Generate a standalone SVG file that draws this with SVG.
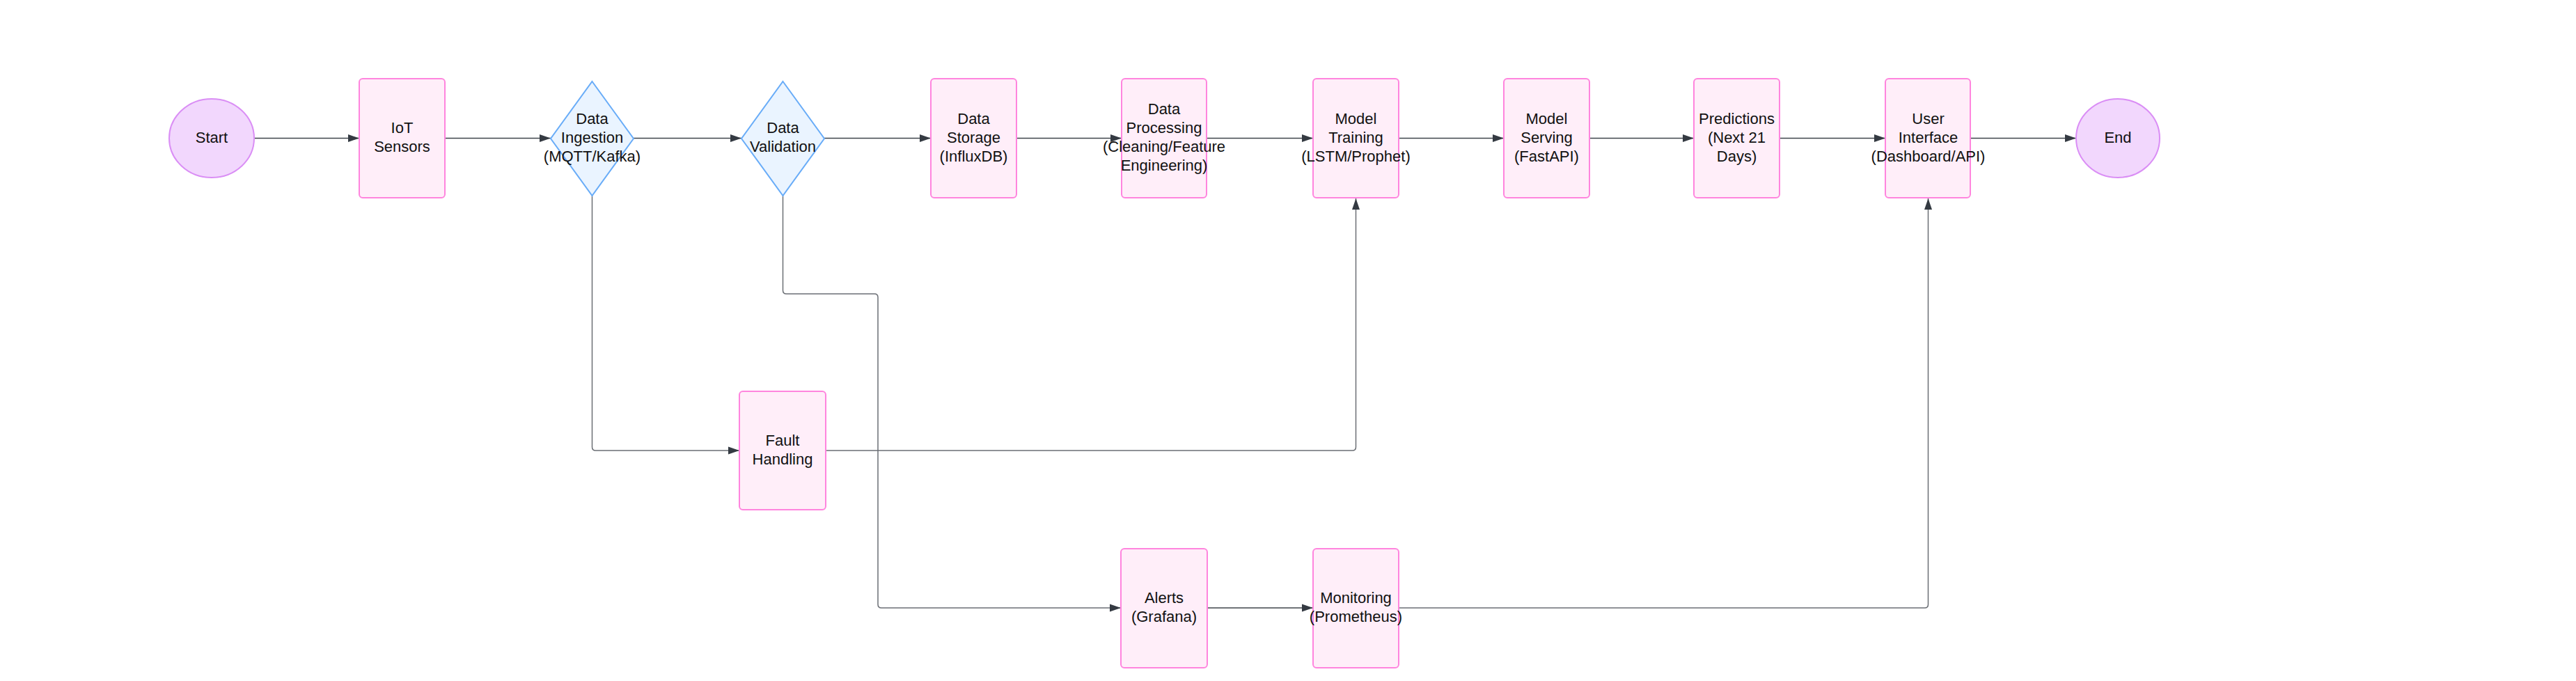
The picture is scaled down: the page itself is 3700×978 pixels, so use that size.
<svg xmlns="http://www.w3.org/2000/svg" width="3700" height="978" viewBox="0 0 3700 978">
<style>
.rect{fill:#FFEEF9;stroke:#FF85DE;stroke-width:2;}
.term{fill:#F2D7FD;stroke:#DA8EF5;stroke-width:2;}
.dec{fill:#EAF4FF;stroke:#68ACF8;stroke-width:2;}
.lbl{font-family:"Liberation Sans",Arial,sans-serif;font-size:22px;fill:#111;text-anchor:middle;}
.edge{fill:none;stroke:#3F444B;stroke-width:1.5;}
.edge2{fill:none;stroke:#6B6F75;stroke-width:1.5;}
</style>
<defs>
<marker id="arr" markerUnits="userSpaceOnUse" markerWidth="18" markerHeight="12" refX="16" refY="6" orient="auto">
<path d="M0,0.5 L16,6 L0,11.5 Z" fill="#343A42"/>
</marker>
</defs>
<rect width="3700" height="978" fill="#FFFFFF"/>
<g id="connectors">
<path class="edge" d="M365,198.5 H516" marker-end="url(#arr)"/>
<path class="edge" d="M639,198.5 H791" marker-end="url(#arr)"/>
<path class="edge" d="M910,198.5 H1065" marker-end="url(#arr)"/>
<path class="edge" d="M1184,198.5 H1337" marker-end="url(#arr)"/>
<path class="edge" d="M1460,198.5 H1611" marker-end="url(#arr)"/>
<path class="edge" d="M1733,198.5 H1886" marker-end="url(#arr)"/>
<path class="edge" d="M2009,198.5 H2160" marker-end="url(#arr)"/>
<path class="edge" d="M2283,198.5 H2433" marker-end="url(#arr)"/>
<path class="edge" d="M2556,198.5 H2708" marker-end="url(#arr)"/>
<path class="edge" d="M2830,198.5 H2982" marker-end="url(#arr)"/>
<path class="edge2" d="M850.5,281 V642 Q850.5,647 855.5,647 H1062" marker-end="url(#arr)"/>
<path class="edge2" d="M1124.5,281 V417 Q1124.5,422 1129.5,422 H1256 Q1261,422 1261,427 V868 Q1261,873 1266,873 H1610" marker-end="url(#arr)"/>
<path class="edge2" d="M1186,647 H1942.5 Q1947.5,647 1947.5,642 V285" marker-end="url(#arr)"/>
<path class="edge" d="M1734,873 H1886" marker-end="url(#arr)"/>
<path class="edge2" d="M2009,873 H2764.5 Q2769.5,873 2769.5,868 V285" marker-end="url(#arr)"/>
</g>
<g id="start">
<ellipse class="term" cx="304" cy="198.5" rx="61" ry="56.5"/>
<text class="lbl" x="304" y="205">Start</text>
</g>
<g id="iot-sensors">
<rect class="rect" x="516" y="113" width="123" height="171" rx="5"/>
<text class="lbl" x="577.5" y="191">IoT</text>
<text class="lbl" x="577.5" y="218">Sensors</text>
</g>
<g id="data-ingestion">
<polygon class="dec" points="850.5,117 910,199 850.5,281 791,199"/>
<text class="lbl" x="850.5" y="177.5">Data</text>
<text class="lbl" x="850.5" y="204.5">Ingestion</text>
<text class="lbl" x="850.5" y="231.5">(MQTT/Kafka)</text>
</g>
<g id="data-validation">
<polygon class="dec" points="1124.5,117 1184,199 1124.5,281 1065,199"/>
<text class="lbl" x="1124.5" y="191">Data</text>
<text class="lbl" x="1124.5" y="218">Validation</text>
</g>
<g id="data-storage">
<rect class="rect" x="1337" y="113" width="123" height="171" rx="5"/>
<text class="lbl" x="1398.5" y="177.5">Data</text>
<text class="lbl" x="1398.5" y="204.5">Storage</text>
<text class="lbl" x="1398.5" y="231.5">(InfluxDB)</text>
</g>
<g id="data-processing">
<rect class="rect" x="1611" y="113" width="122" height="171" rx="5"/>
<text class="lbl" x="1672" y="164">Data</text>
<text class="lbl" x="1672" y="191">Processing</text>
<text class="lbl" x="1672" y="218">(Cleaning/Feature</text>
<text class="lbl" x="1672" y="245">Engineering)</text>
</g>
<g id="model-training">
<rect class="rect" x="1886" y="113" width="123" height="171" rx="5"/>
<text class="lbl" x="1947.5" y="177.5">Model</text>
<text class="lbl" x="1947.5" y="204.5">Training</text>
<text class="lbl" x="1947.5" y="231.5">(LSTM/Prophet)</text>
</g>
<g id="model-serving">
<rect class="rect" x="2160" y="113" width="123" height="171" rx="5"/>
<text class="lbl" x="2221.5" y="177.5">Model</text>
<text class="lbl" x="2221.5" y="204.5">Serving</text>
<text class="lbl" x="2221.5" y="231.5">(FastAPI)</text>
</g>
<g id="predictions">
<rect class="rect" x="2433" y="113" width="123" height="171" rx="5"/>
<text class="lbl" x="2494.5" y="177.5">Predictions</text>
<text class="lbl" x="2494.5" y="204.5">(Next 21</text>
<text class="lbl" x="2494.5" y="231.5">Days)</text>
</g>
<g id="user-interface">
<rect class="rect" x="2708" y="113" width="122" height="171" rx="5"/>
<text class="lbl" x="2769.5" y="177.5">User</text>
<text class="lbl" x="2769.5" y="204.5">Interface</text>
<text class="lbl" x="2769.5" y="231.5">(Dashboard/API)</text>
</g>
<g id="end">
<ellipse class="term" cx="3042" cy="198.5" rx="60" ry="56.5"/>
<text class="lbl" x="3042" y="205">End</text>
</g>
<g id="fault-handling">
<rect class="rect" x="1062" y="562" width="124" height="170" rx="5"/>
<text class="lbl" x="1124" y="639.5">Fault</text>
<text class="lbl" x="1124" y="666.5">Handling</text>
</g>
<g id="alerts">
<rect class="rect" x="1610" y="788" width="124" height="171" rx="5"/>
<text class="lbl" x="1672" y="866">Alerts</text>
<text class="lbl" x="1672" y="893">(Grafana)</text>
</g>
<g id="monitoring">
<rect class="rect" x="1886" y="788" width="123" height="171" rx="5"/>
<text class="lbl" x="1947.5" y="866">Monitoring</text>
<text class="lbl" x="1947.5" y="893">(Prometheus)</text>
</g>
</svg>
